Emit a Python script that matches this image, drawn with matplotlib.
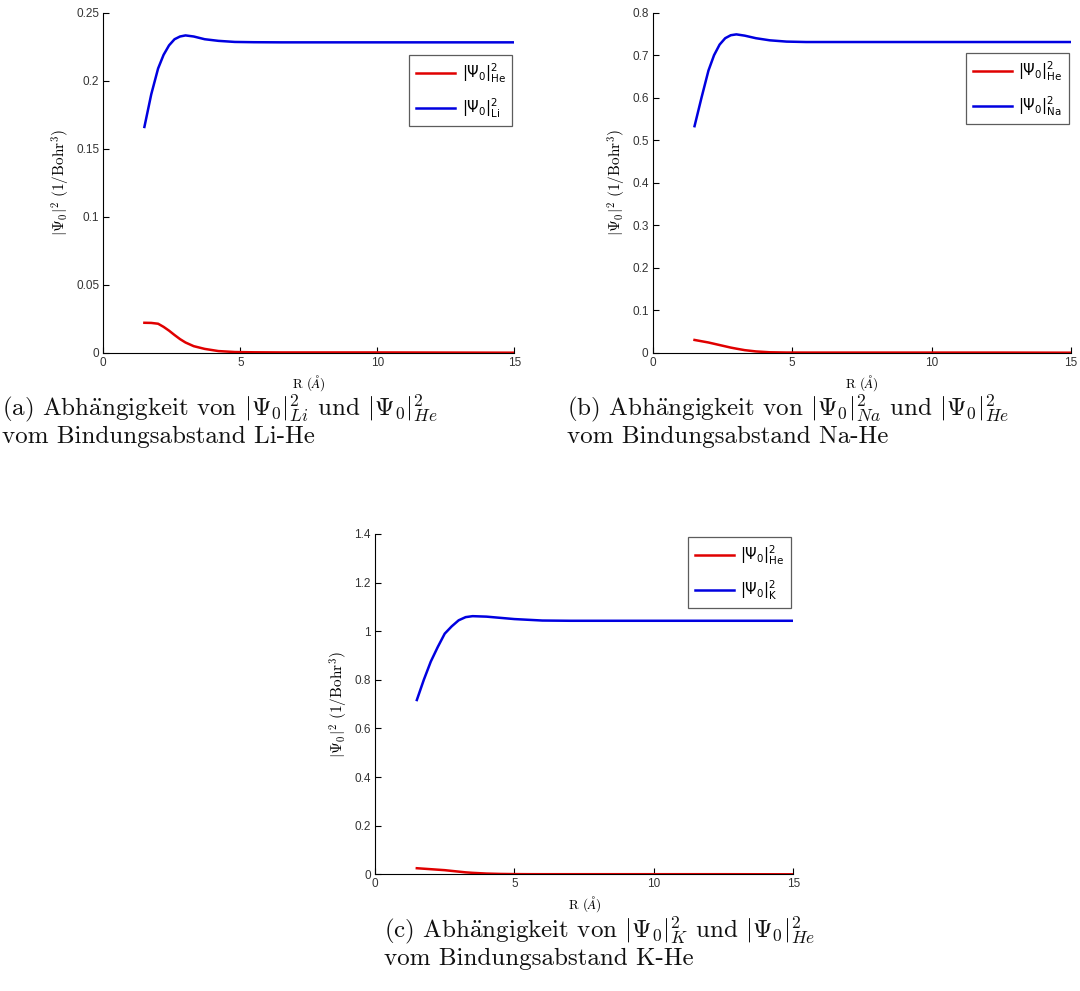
import numpy as np
import matplotlib
matplotlib.use('Agg')
import matplotlib.pyplot as plt
from matplotlib.font_manager import FontProperties

plt.rcParams['mathtext.fontset'] = 'cm'
plt.rcParams['axes.formatter.use_mathtext'] = False

# data: R in Angstrom, |Psi0|^2 in 1/Bohr^3
r_a = [1.5, 1.75, 2.0, 2.2, 2.4, 2.6, 2.8, 3.0, 3.3, 3.7, 4.2, 4.8, 5.5, 6.5, 8, 10, 12.5, 15]
li = [0.166, 0.190, 0.209, 0.219, 0.226, 0.2305, 0.2325, 0.2333, 0.2325, 0.2305, 0.2293, 0.2285, 0.2283, 0.2282, 0.2282, 0.2282, 0.2282, 0.2282]
he_a = [0.022, 0.0219, 0.0213, 0.019, 0.0162, 0.013, 0.010, 0.0075, 0.0048, 0.0028, 0.0012, 0.0005, 0.0003, 0.0002, 0.0002, 0.0002, 0.0001, 0.0]

r_b = [1.5, 1.75, 2.0, 2.2, 2.4, 2.6, 2.8, 3.0, 3.3, 3.7, 4.2, 4.8, 5.5, 6.5, 8, 10, 12.5, 15]
na = [0.533, 0.600, 0.664, 0.700, 0.725, 0.740, 0.747, 0.749, 0.746, 0.740, 0.735, 0.732, 0.731, 0.731, 0.731, 0.731, 0.731, 0.731]
he_b = [0.030, 0.027, 0.024, 0.021, 0.018, 0.015, 0.012, 0.0095, 0.006, 0.003, 0.001, 0.0004, 0.0003, 0.0003, 0.0003, 0.0003, 0.0003, 0.0]

r_c = [1.5, 1.75, 2.0, 2.25, 2.5, 2.75, 3.0, 3.25, 3.5, 4.0, 4.5, 5.0, 5.5, 6.0, 7, 8, 10, 12.5, 15]
k = [0.717, 0.800, 0.875, 0.935, 0.990, 1.020, 1.045, 1.058, 1.062, 1.060, 1.055, 1.050, 1.047, 1.044, 1.043, 1.043, 1.043, 1.043, 1.043]
he_c = [0.025, 0.023, 0.021, 0.019, 0.017, 0.014, 0.011, 0.008, 0.006, 0.003, 0.0015, 0.0008, 0.0005, 0.0004, 0.0004, 0.0004, 0.0004, 0.0004, 0.0]

panels = [
    # (x0, x15, ytop, ybottom) in pixels, ymax, yticks, data
    dict(px=(103.3, 514.3, 12.7, 352.7), ymax=0.25, yticks=[0, 0.05, 0.1, 0.15, 0.2, 0.25],
         r=r_a, blue=li, red=he_a, alk='Li', leg=(409, 55)),
    dict(px=(652.7, 1071.0, 12.7, 352.7), ymax=0.8, yticks=[0, 0.1, 0.2, 0.3, 0.4, 0.5, 0.6, 0.7, 0.8],
         r=r_b, blue=na, red=he_b, alk='Na', leg=(966, 53)),
    dict(px=(375.0, 793.3, 534.0, 874.3), ymax=1.4, yticks=[0, 0.2, 0.4, 0.6, 0.8, 1, 1.2, 1.4],
         r=r_c, blue=k, red=he_c, alk='K', leg=(688, 537)),
]

W, H = 1080, 991
fig = plt.figure(figsize=(W / 100, H / 100), dpi=100)

serif = ['cmr10', 'DejaVu Serif']
legprop = FontProperties(family='Liberation Sans', size=10.5, math_fontfamily='dejavusans')

for p in panels:
    x0, x1, yt, yb = p['px']
    ax = fig.add_axes([x0 / W, 1 - yb / H, (x1 - x0) / W, (yb - yt) / H])
    ax.plot(p['r'], p['red'], color='#e00000', lw=1.8, label=r'$|\Psi_0|^2_{\mathrm{He}}$')
    ax.plot(p['r'], p['blue'], color='#0000e0', lw=1.8, label=r'$|\Psi_0|^2_{\mathrm{%s}}$' % p['alk'])
    ax.set_xlim(0, 15)
    ax.set_ylim(0, p['ymax'])
    ax.set_xticks([0, 5, 10, 15])
    ax.set_yticks(p['yticks'])
    ax.set_yticklabels(['%g' % v for v in p['yticks']])
    for s in ['top', 'right']:
        ax.spines[s].set_visible(False)
    for s in ['left', 'bottom']:
        ax.spines[s].set_linewidth(0.8)
    ax.tick_params(direction='in', length=4, width=0.8, labelsize=8.5, colors='black', pad=3)
    for t in ax.get_xticklabels() + ax.get_yticklabels():
        t.set_fontfamily('Liberation Sans')
        t.set_color('#333333')
    ax.set_xlabel(r'R ($\AA$)', fontsize=9.5, family=serif, labelpad=3)
    ax.set_ylabel(r'$|\Psi_0|^2$ (1/Bohr$^3$)', fontsize=11, family=serif, labelpad=3)
    lx, ly = p['leg']
    leg = ax.legend(loc='upper left', bbox_to_anchor=((lx - x0) / (x1 - x0), 1 - (ly - yt) / (yb - yt)),
                    prop=legprop, frameon=True, fancybox=False, handlelength=2.7,
                    borderpad=0.45, labelspacing=0.8, handletextpad=0.45, borderaxespad=0)
    leg.get_frame().set_edgecolor('#333333')
    leg.get_frame().set_linewidth(0.9)

ae = r'Abh$\ddot{\mathrm{a}}$ngigkeit'
caps = [
    (2, 392, '(a) ' + ae + r' von $|\Psi_0|^2_{Li}$ und $|\Psi_0|^2_{He}$' + '\nvom Bindungsabstand Li-He'),
    (567, 392, '(b) ' + ae + r' von $|\Psi_0|^2_{Na}$ und $|\Psi_0|^2_{He}$' + '\nvom Bindungsabstand Na-He'),
    (384, 914, '(c) ' + ae + r' von $|\Psi_0|^2_{K}$ und $|\Psi_0|^2_{He}$' + '\nvom Bindungsabstand K-He'),
]
for cx, cy, txt in caps:
    fig.text(cx / W, 1 - cy / H, txt, fontsize=18, family=serif, va='top', ha='left',
             linespacing=1.1, color='#111111')

fig.savefig('out.png', dpi=100)
